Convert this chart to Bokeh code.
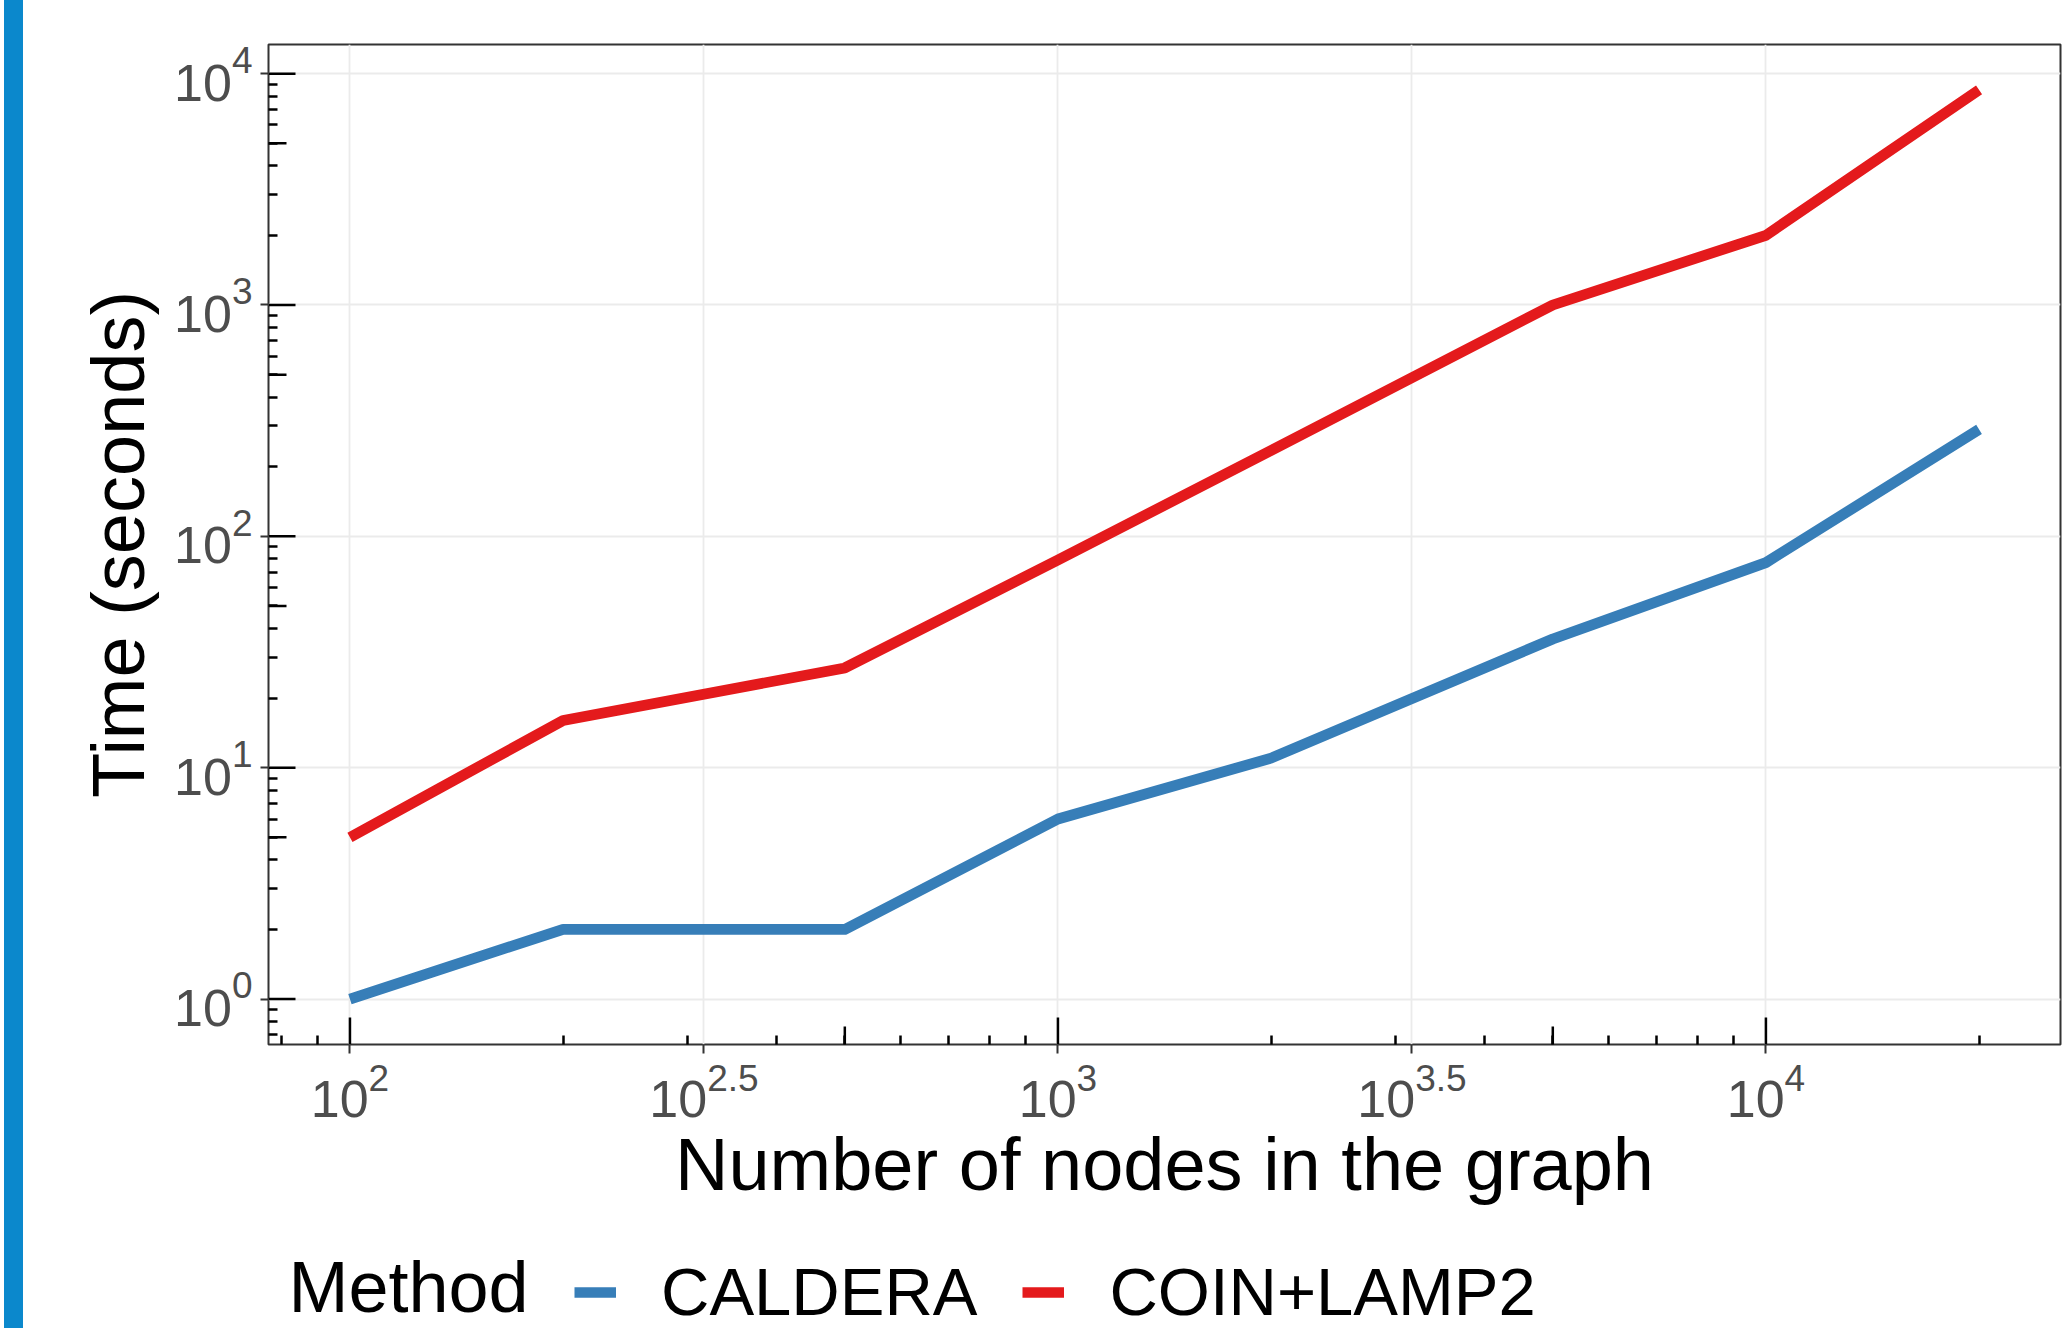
import math
from bokeh.plotting import figure
from bokeh.models import (Range1d, FixedTicker, CustomJSTickFormatter, Label,
                          Legend, LegendItem, Div, Spacer, LogScale)
from bokeh.layouts import row, column
from bokeh.embed import file_html
from bokeh.resources import INLINE

# ---------------- data ----------------
nodes = [100, 200, 500, 1000, 2000, 5000, 10000, 20000]
caldera = [1, 2, 2, 6, 11, 36, 77, 290]
coin_lamp2 = [5, 16, 27, 79, 235, 1000, 2000, 8500]
series_names = ["CALDERA", "COIN+LAMP2"]
x_exponents = ["2", "2.5", "3", "3.5", "4"]
y_exponents = ["0", "1", "2", "3", "4"]
x_title = "Number of nodes in the graph"
y_title = "Time (seconds)"
legend_title = "Method"

# ---------------- style / geometry ----------------
colors = ["#377EB8", "#E41A1C"]
FONT = "Liberation Sans"
LABEL_GRAY = "#4D4D4D"
LINE_W = 10.7
MID = 0.3465                    # text anchor sits this many em above the baseline

BAR_W = 19
C_W = 235                       # strip with y tick labels + y title
A_W, A_H = 1806, 1056           # main panel figure
A_BL, A_BR, A_BT, A_BB = 10, 4, 44, 12
B_H = 272                       # strip with x tick labels, x title, legend
FRAME_W = A_W - A_BL - A_BR
FRAME_H = A_H - A_BT - A_BB


def expand(lo, hi, f=0.05):
    a, b = math.log10(lo), math.log10(hi)
    d = (b - a) * f
    return a - d, b + d


def in_range(v, lo, hi):
    return lo <= math.log10(v) <= hi


xlo, xhi = expand(min(nodes), max(nodes))
ylo, yhi = expand(min(caldera + coin_lamp2), max(caldera + coin_lamp2))
xr = Range1d(10 ** xlo, 10 ** xhi)
yr = Range1d(10 ** ylo, 10 ** yhi)

# ---------------- main panel ----------------
p = figure(width=A_W, height=A_H, x_axis_type="log", y_axis_type="log",
           x_range=xr, y_range=yr, output_backend="svg", toolbar_location=None,
           min_border_left=A_BL, min_border_right=A_BR,
           min_border_top=A_BT, min_border_bottom=A_BB)
p.background_fill_color = "white"
p.border_fill_color = "white"
p.outline_line_color = "#333333"
p.outline_line_width = 2

x_major = [10 ** float(e) for e in x_exponents]
y_major = [10 ** float(e) for e in y_exponents]
x_minor = [k * 10 ** d for d in range(1, 5) for k in range(2, 10) if in_range(k * 10 ** d, xlo, xhi)]
y_minor = [k * 10.0 ** d for d in range(-1, 4) for k in range(2, 10) if in_range(k * 10.0 ** d, ylo, yhi)]

xt = FixedTicker(ticks=x_major, minor_ticks=x_minor)
yt = FixedTicker(ticks=y_major, minor_ticks=y_minor)
p.xaxis.ticker = xt
p.yaxis.ticker = yt
p.xgrid.ticker = xt
p.ygrid.ticker = yt
for g in (p.xgrid, p.ygrid):
    g.grid_line_color = "#EBEBEB"
    g.grid_line_width = 1.8

for ax in (p.xaxis[0], p.yaxis[0]):
    ax.formatter = CustomJSTickFormatter(code="return ''")
    ax.major_label_text_font_size = "0px"
    ax.major_label_standoff = 0
    ax.axis_line_color = None
    ax.major_tick_in = 0
    ax.major_tick_line_color = "#333333"
    ax.major_tick_line_width = 2
    ax.minor_tick_in = 9
    ax.minor_tick_out = 0
    ax.minor_tick_line_color = "black"
    ax.minor_tick_line_width = 2.5
p.xaxis.major_tick_out = 9
p.yaxis.major_tick_out = 8

r1 = p.line(nodes, caldera, line_color=colors[0], line_width=LINE_W, line_join="round")
r2 = p.line(nodes, coin_lamp2, line_color=colors[1], line_width=LINE_W, line_join="round")

# long (decade) and mid (5x) log ticks, inside the panel
ppd_x = FRAME_W / (xhi - xlo)
ppd_y = FRAME_H / (yhi - ylo)
for mult, L in ((1, 27), (5, 18)):
    xs = [mult * 10 ** d for d in range(1, 6) if in_range(mult * 10 ** d, xlo, xhi)]
    ys = [mult * 10.0 ** d for d in range(-1, 5) if in_range(mult * 10.0 ** d, ylo, yhi)]
    p.segment(x0=xs, x1=xs, y0=[10 ** ylo] * len(xs), y1=[10 ** (ylo + L / ppd_y)] * len(xs),
              line_color="black", line_width=2.5)
    p.segment(y0=ys, y1=ys, x0=[10 ** xlo] * len(ys), x1=[10 ** (xlo + L / ppd_x)] * len(ys),
              line_color="black", line_width=2.5)

BASE_FS, EXP_FS, TITLE_FS = 52, 37, 74


def tw(s, fs):
    return sum(0.278 if c == "." else 0.556 for c in s) * fs


# ---------------- y strip (tick labels + y title) ----------------
c = figure(width=C_W, height=A_H, x_range=Range1d(0, 1), y_range=yr,
           x_axis_location=None, y_axis_location=None,
           output_backend="svg", toolbar_location=None,
           min_border_left=0, min_border_right=0, min_border_top=A_BT, min_border_bottom=A_BB)
c.y_scale = LogScale()
c.outline_line_color = None
c.grid.visible = False
for e, v in zip(y_exponents, y_major):
    we = tw(e, EXP_FS)
    c.add_layout(Label(x=C_W - 6 - we, y=v, x_units="screen", y_units="data", text="10",
                       y_offset=-27 + MID * BASE_FS, text_align="right", text_baseline="alphabetic",
                       text_font=FONT, text_font_size=f"{BASE_FS}px", text_color=LABEL_GRAY))
    c.add_layout(Label(x=C_W - 6, y=v, x_units="screen", y_units="data", text=e,
                       y_offset=1 + MID * EXP_FS, text_align="right", text_baseline="alphabetic",
                       text_font=FONT, text_font_size=f"{EXP_FS}px", text_color=LABEL_GRAY))
c.add_layout(Label(x=120.5 - MID * TITLE_FS, y=FRAME_H / 2, x_units="screen", y_units="screen",
                   text=y_title, angle=math.pi / 2, text_align="center", text_baseline="alphabetic",
                   text_font=FONT, text_font_size=f"{TITLE_FS}px", text_color="black"))

# ---------------- x strip (tick labels, x title, legend) ----------------
b = figure(width=A_W, height=B_H, x_range=xr, y_range=Range1d(-1, 0),
           x_axis_location=None, y_axis_location=None,
           output_backend="svg", toolbar_location=None,
           min_border_left=A_BL, min_border_right=A_BR, min_border_top=0, min_border_bottom=0)
b.x_scale = LogScale()
b.outline_line_color = None
b.grid.visible = False
for e, v in zip(x_exponents, x_major):
    wb, we = tw("10", BASE_FS), tw(e, EXP_FS)
    w = wb + we
    b.add_layout(Label(x=v, y=B_H - 61 + MID * BASE_FS, x_units="data", y_units="screen", text="10",
                       x_offset=-w / 2, text_align="left", text_baseline="alphabetic",
                       text_font=FONT, text_font_size=f"{BASE_FS}px", text_color=LABEL_GRAY))
    b.add_layout(Label(x=v, y=B_H - 34 + MID * EXP_FS, x_units="data", y_units="screen", text=e,
                       x_offset=-w / 2 + wb, text_align="left", text_baseline="alphabetic",
                       text_font=FONT, text_font_size=f"{EXP_FS}px", text_color=LABEL_GRAY))
b.add_layout(Label(x=FRAME_W / 2, y=B_H - 134 + MID * TITLE_FS, x_units="screen", y_units="screen",
                   text=x_title, text_align="center", text_baseline="alphabetic",
                   text_font=FONT, text_font_size=f"{TITLE_FS}px", text_color="black"))

# legend keys: the same series drawn in this strip, where they fall outside the visible range
k1 = b.line(nodes, caldera, line_color=colors[0], line_width=LINE_W)
k2 = b.line(nodes, coin_lamp2, line_color=colors[1], line_width=LINE_W)
legend = Legend(items=[LegendItem(label=series_names[0], renderers=[k1]),
                       LegendItem(label=series_names[1], renderers=[k2])],
                orientation="horizontal", location=(306, -2),
                glyph_width=42, glyph_height=76, label_height=76,
                label_standoff=45, spacing=45, padding=0, margin=0,
                border_line_color=None, background_fill_alpha=0,
                label_text_font=FONT, label_text_font_size="67px", label_text_color="black")
b.add_layout(legend)
b.add_layout(Label(x=20, y=17 + MID * 72, x_units="screen", y_units="screen", text=legend_title,
                   text_align="left", text_baseline="alphabetic",
                   text_font=FONT, text_font_size="72px", text_color="black"))

bar = Div(width=BAR_W, height=A_H + B_H, margin=(0, 0, 0, 4),
          styles={"background-color": "#0B88CC"})
layout = row(bar, column(row(c, p), row(Spacer(width=C_W, height=B_H), b)))

open("out.html", "w").write(file_html(layout, INLINE))
